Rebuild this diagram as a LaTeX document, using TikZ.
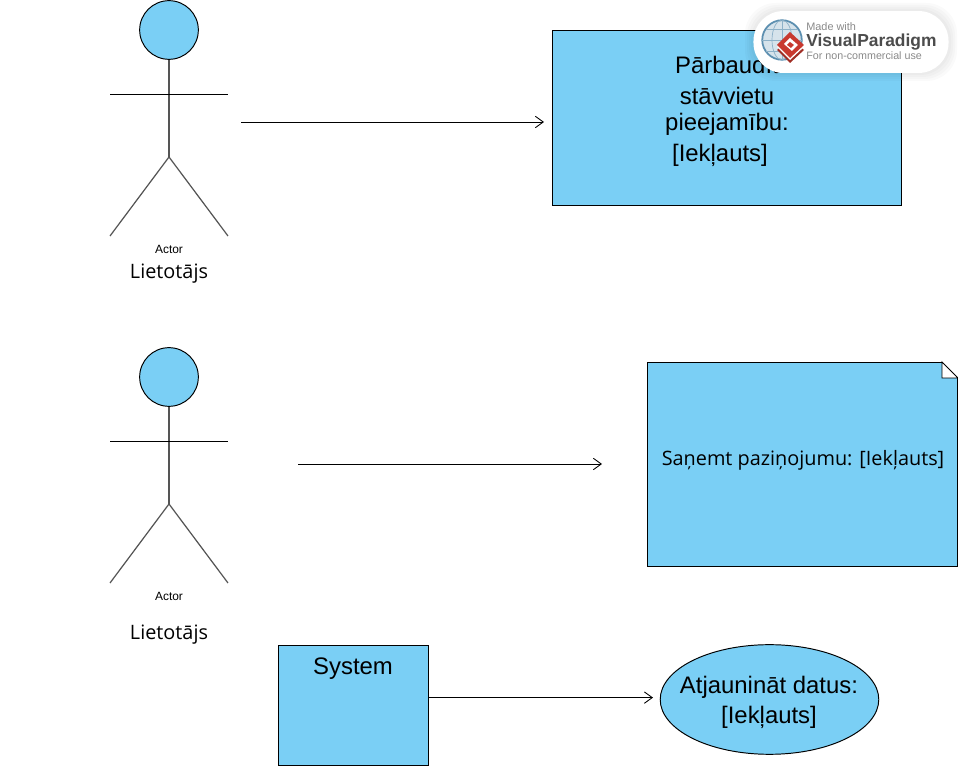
\documentclass[tikz,border=0pt]{standalone}
\usepackage{fontspec}
\setmainfont{Liberation Sans}
\newfontfamily\opensans{Open Sans}
\usetikzlibrary{arrows.meta,shapes.geometric}
\definecolor{ucblue}{HTML}{7ACFF5}
\definecolor{limb}{HTML}{555555}
\definecolor{globe}{HTML}{5C8FB0}
\definecolor{vpred}{HTML}{C8392F}
\definecolor{vpgrey}{HTML}{8A8A8A}
\tikzset{
  boxshape/.style={draw=black, fill=ucblue, line width=0.55pt, inner sep=0pt, anchor=north west},
  bigtext/.style={font=\fontsize{13.6pt}{16.3pt}\selectfont, align=center, inner sep=0pt},
  actortext/.style={font=\fontsize{6.8pt}{8pt}\selectfont, inner sep=0pt},
  nametext/.style={font=\opensans\fontsize{11.3pt}{13pt}\selectfont, inner sep=0pt},
  limbline/.style={draw=limb, line width=0.7pt},
  flow/.style={draw=black, line width=0.5pt, -{Straight Barb[length=4.5pt,width=6.5pt]}},
}
\begin{document}
\begin{tikzpicture}[x=0.02cm, y=-0.02cm]
  \useasboundingbox (0,0) rectangle (958,766);

  % first actor
  \node[draw=black, fill=ucblue, circle, line width=0.55pt, minimum size=33.4pt, inner sep=0pt] (headA) at (169,30) {};
  \coordinate (hipA) at (169,157);
  \coordinate (handAl) at (110,94);
  \coordinate (handAr) at (228,94);
  \coordinate (footAl) at (110,236);
  \coordinate (footAr) at (228,236);
  \draw[limbline] (headA.south) -- (hipA);
  \draw[draw=black, line width=0.5pt] (handAl) -- (handAr);
  \draw[limbline] (footAl) -- (hipA) -- (footAr);
  \node[actortext] (actorA) at (169,249) {Actor};
  \node[nametext] (nameA) at (169,273.5) {Lietotājs};

  % second actor
  \node[draw=black, fill=ucblue, circle, line width=0.55pt, minimum size=33.4pt, inner sep=0pt] (headB) at (169,377) {};
  \coordinate (hipB) at (169,504);
  \coordinate (handBl) at (110,441);
  \coordinate (handBr) at (228,441);
  \coordinate (footBl) at (110,583);
  \coordinate (footBr) at (228,583);
  \draw[limbline] (headB.south) -- (hipB);
  \draw[draw=black, line width=0.5pt] (handBl) -- (handBr);
  \draw[limbline] (footBl) -- (hipB) -- (footBr);
  \node[actortext] (actorB) at (169,596) {Actor};
  \node[nametext] (nameB) at (169,634.5) {Lietotājs};

  % boxes
  \node[boxshape, minimum width=198.9pt, minimum height=99.5pt] (check) at (552,30) {};
  \node[bigtext] (checktext) at (727,111.5) {Pārbaudīt\\[1.1pt]stāvvietu\\[-1.2pt]pieejamību:\\[1.1pt]\mbox{[Iekļauts]\hspace{8pt}}};
  \node[boxshape, minimum width=176.3pt, minimum height=116pt] (notice) at (647,362) {};
  \node[font=\opensans\fontsize{11.3pt}{13pt}\selectfont, inner sep=0pt] (noticetext) at (803,460.5) {Saņemt paziņojumu: [Iekļauts]};
  \coordinate (foldA) at (942,362);
  \coordinate (foldB) at (942,378);
  \coordinate (foldC) at (958,378);
  \fill[white] (foldA) -- (foldC) -- (958,362) -- cycle;
  \draw[draw=black, line width=0.55pt, fill=white] (foldA) -- (foldB) -- (foldC) -- cycle;
  \node[boxshape, minimum width=85.3pt, minimum height=68.3pt] (system) at (278,645) {};
  \node[bigtext] (systemtext) at (353,669) {System};
  \node[draw=black, fill=ucblue, ellipse, line width=0.55pt, minimum width=124.4pt, minimum height=62.4pt, inner sep=0pt] (update) at (769.5,699.5) {};
  \node[bigtext] (updatetext) at (769,702.5) {Atjaunināt datus:\\[0.6pt][Iekļauts]};

  % connectors
  \coordinate (startA) at (241,122);
  \coordinate (endA) at (544,122);
  \coordinate (startB) at (298,464);
  \coordinate (endB) at (602,464);
  \coordinate (endC) at (653,697.6);
  \draw[flow] (startA) -- (endA);
  \draw[flow] (startB) -- (endB);
  \draw[flow] (system.east |- endC) -- (endC);

  % watermark
  \foreach \s in {8,6,4,2}
    \fill[black, opacity=0.02, rounded corners=17.5pt] (753-\s,11-\s) rectangle (949+\s,73+\s);
  \node[fill=white, rounded corners=17pt, minimum width=111pt, minimum height=35.2pt, inner sep=0pt] (badge) at (851,42) {};
  \node[draw=globe, fill=globe!25, circle, line width=1pt, minimum size=22.5pt, inner sep=0pt] (vpglobe) at (782,40) {};
  \draw[globe!70, line width=0.4pt] (vpglobe.north) -- (vpglobe.south) (vpglobe.west) -- (vpglobe.east);
  \draw[globe!70, line width=0.4pt] (vpglobe.center) ellipse (10 and 20);
  \draw[globe!70, line width=0.4pt] (766,29) -- (798,29) (766,51) -- (798,51);
  \fill[vpred!80!black] (790,38) -- (804,50) -- (790,63) -- (777,50) -- cycle;
  \fill[white] (790,35) -- (804,47) -- (790,60) -- (777,47) -- cycle;
  \fill[vpred] (790,32) -- (804,45) -- (790,58) -- (777,45) -- cycle;
  \fill[white] (790,38) -- (798,45) -- (792,51) -- (784,44) -- cycle;
  \fill[vpred] (790,42) -- (794,45) -- (791,48) -- (787,45) -- cycle;
  \node[font=\fontsize{6.2pt}{7pt}\selectfont, text=vpgrey, inner sep=0pt, anchor=west] (vpmade) at (806,27) {Made with};
  \node[font=\bfseries\fontsize{9.9pt}{12pt}\selectfont, text=black!70, inner sep=0pt, anchor=west] (vpname) at (806,42) {VisualParadigm};
  \node[font=\fontsize{6.1pt}{7pt}\selectfont, text=vpgrey, inner sep=0pt, anchor=west] (vpuse) at (806,56) {For non-commercial use};
\end{tikzpicture}
\end{document}
